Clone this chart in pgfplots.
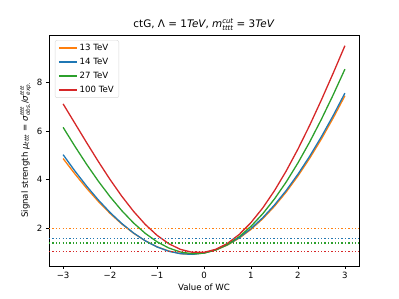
\documentclass[border=0pt]{standalone}
\usepackage{pgfplots}
\pgfplotsset{compat=1.18}
\usepackage{fontspec}
\setmainfont{DejaVu Sans}
\definecolor{mplorange}{HTML}{FF7F0E}
\definecolor{mplblue}{HTML}{1F77B4}
\definecolor{mplgreen}{HTML}{2CA02C}
\definecolor{mplred}{HTML}{D62728}
\newcommand\supsub[2]{\begingroup\sbox0{\raisebox{0.42em}{\fontsize{0.66em}{0.7em}\selectfont #1}}\sbox2{\raisebox{-0.25em}{\fontsize{0.66em}{0.7em}\selectfont #2}}\ifdim\wd0>\wd2 \rlap{\usebox2}\usebox0\else\rlap{\usebox0}\usebox2\fi\endgroup}
\begin{document}
\begin{tikzpicture}
\begin{axis}[
  width=310pt, height=231pt, scale only axis,
  xmin=-3.3, xmax=3.3, ymin=0.47, ymax=9.93,
  xtick={-3,-2,-1,0,1,2,3}, xticklabels={−3,−2,−1,0,1,2,3},
  ytick={2,4,6,8}, yticklabels={2,4,6,8},
  tick align=outside, tick pos=left,
  major tick length=3pt,
  every tick/.style={black, line width=0.7pt},
  axis line style={line width=0.7pt},
  ticklabel style={font=\fontsize{8.6}{10}\selectfont},
  title={ctG, Λ = 1\textit{TeV}, \textit{m}\supsub{\textit{cut}}{\textit{tttt}} = 3\textit{TeV}},
  title style={font=\fontsize{10.4}{12}\selectfont, yshift=-5pt},
  xlabel={Value of WC},
  ylabel={Signal strength \textit{μ}\textsubscript{\textit{tttt}} = \textit{σ}\supsub{\textit{tttt}}{\textit{obs.}}/\textit{σ}\supsub{\textit{tttt}}{\textit{exp.}}},
  label style={font=\fontsize{8.6}{10}\selectfont},
  xlabel style={yshift=2pt},
  ylabel style={yshift=-1pt},
  legend style={at={(0.019,0.978)}, anchor=north west, draw=black!15, rounded corners=2pt,
    font=\fontsize{8.6}{10}\selectfont, row sep=2pt, inner xsep=3pt, inner ysep=2pt},
  legend cell align=left,
  legend image code/.code={\draw[#1, line width=1.6pt] (0pt,0pt) -- (18pt,0pt);},
  every axis plot/.append style={line width=1.3pt},
]
\addplot[mplorange] coordinates {
(-3,4.871)(-2.75,4.244)(-2.5,3.656)(-2.25,3.114)(-2,2.623)(-1.75,2.188)(-1.5,1.813)(-1.25,1.501)(-1,1.256)(-0.75,1.082)(-0.5,0.979)(-0.25,0.952)(0,1.0)(0.25,1.125)(0.5,1.329)(0.75,1.610)(1,1.968)(1.25,2.403)(1.5,2.914)(1.75,3.499)(2,4.156)(2.25,4.881)(2.5,5.673)(2.75,6.528)(3,7.44)};
\addlegendentry{13 TeV}
\addplot[mplblue] coordinates {
(-3,5.03)(-2.75,4.364)(-2.5,3.744)(-2.25,3.175)(-2,2.663)(-1.75,2.210)(-1.5,1.822)(-1.25,1.501)(-1,1.251)(-0.75,1.074)(-0.5,0.972)(-0.25,0.947)(0,1.0)(0.25,1.132)(0.5,1.342)(0.75,1.632)(1,2.0)(1.25,2.445)(1.5,2.967)(1.75,3.562)(2,4.229)(2.25,4.964)(2.5,5.766)(2.75,6.629)(3,7.55)};
\addlegendentry{14 TeV}
\addplot[mplgreen] coordinates {
(-3,6.15)(-2.75,5.376)(-2.5,4.637)(-2.25,3.945)(-2,3.308)(-1.75,2.735)(-1.5,2.232)(-1.25,1.806)(-1,1.462)(-0.75,1.207)(-0.5,1.042)(-0.25,0.973)(0,1.0)(0.25,1.125)(0.5,1.349)(0.75,1.672)(1,2.092)(1.25,2.607)(1.5,3.214)(1.75,3.910)(2,4.690)(2.25,5.549)(2.5,6.480)(2.75,7.477)(3,8.53)};
\addlegendentry{27 TeV}
\addplot[mplred] coordinates {
(-3,7.11)(-2.75,6.318)(-2.5,5.525)(-2.25,4.750)(-2,4.011)(-1.75,3.326)(-1.5,2.708)(-1.25,2.171)(-1,1.727)(-0.75,1.383)(-0.5,1.149)(-0.25,1.030)(0,1.03)(0.25,1.152)(0.5,1.396)(0.75,1.762)(1,2.247)(1.25,2.846)(1.5,3.553)(1.75,4.360)(2,5.257)(2.25,6.232)(2.5,7.274)(2.75,8.365)(3,9.49)};
\addlegendentry{100 TeV}
\addplot[mplorange, dash pattern=on 1.3pt off 2.1pt, forget plot] coordinates {(-3.3,2.0)(3.3,2.0)};
\addplot[mplblue, dash pattern=on 1.3pt off 2.1pt, forget plot] coordinates {(-3.3,1.60)(3.3,1.60)};
\addplot[mplgreen, dash pattern=on 1.3pt off 2.1pt, forget plot] coordinates {(-3.3,1.41)(3.3,1.41)};
\addplot[mplred, dash pattern=on 1.3pt off 2.1pt, forget plot] coordinates {(-3.3,1.06)(3.3,1.06)};
\end{axis}
\pgfresetboundingbox
\path (current axis.south west) ++(-49pt,-33pt) coordinate (bbA);
\path (current axis.north east) ++(40pt,35pt) coordinate (bbB);
\useasboundingbox (bbA) rectangle (bbB);
\end{tikzpicture}
\end{document}
